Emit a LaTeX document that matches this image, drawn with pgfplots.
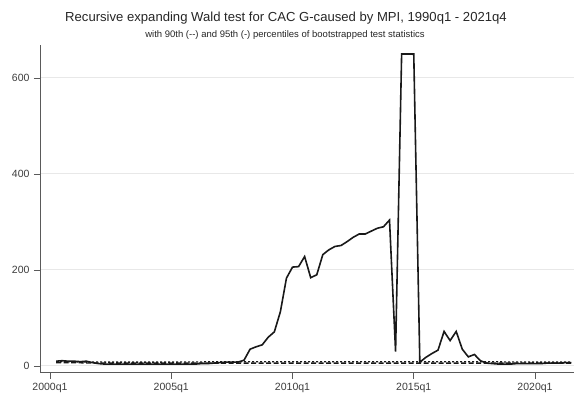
\documentclass[border=0pt]{standalone}
\usepackage{pgfplots}
\pgfplotsset{compat=1.18}
\usepackage{fontspec}
\setmainfont{Liberation Sans}

\definecolor{gridgray}{RGB}{232,232,232}
\definecolor{axisgray}{RGB}{90,90,90}
\definecolor{labelgray}{RGB}{60,60,60}
\definecolor{serieblack}{RGB}{25,25,25}

% quarter index: 0 = 2000q1, 4 = 2001q1, ...
\pgfplotstableread{
q   wald
1   10
2   11
3   10
4   10
5   9
6   10
7   7
8   5
9   4
10  4
11  4
12  4
13  4
14  4
15  4
16  4
17  4
18  4
19  4
20  4
21  4
22  4
23  4
24  4
25  5
26  5
27  6
28  7
29  8
30  8
31  8
32  12
33  35
34  40
35  44
36  60
37  71
38  113
39  183
40  206
41  207
42  228
43  184
44  190
45  232
46  242
47  249
48  251
49  259
50  268
51  275
52  275
53  281
54  287
55  290
56  304
57  30
58  650
59  650
60  650
61  8
62  18
63  26
64  33
65  72
66  53
67  72
68  35
69  19
70  24
71  11
72  6
73  5
74  4
75  4
76  4
77  5
78  5
79  5
80  5
81  5
82  6
83  6
84  6
85  7
86  7
}\waldtab

\pgfplotstableread{
q   p90  p95
1   7    9
10  6    8
20  6    8
30  6    9
40  6    9
50  6    9
60  6    9
70  6    9
80  6    8
86  6    8
}\boottab

\begin{document}
\begin{tikzpicture}
\useasboundingbox (0,0) rectangle (574pt,404pt);

\node[anchor=base, font=\fontsize{13.1}{15}\selectfont, text=black!85] at (286pt,382pt)
  {Recursive expanding Wald test for CAC G-caused by MPI, 1990q1 - 2021q4};
\node[anchor=base, font=\fontsize{9.5}{11}\selectfont, text=black!85] at (285pt,366pt)
  {with 90th (-{}-) and 95th (-) percentiles of bootstrapped test statistics};

\begin{axis}[
  at={(40pt,31pt)}, anchor=south west,
  width=534pt, height=328pt, scale only axis,
  xmin=-1.65, xmax=86.43,
  ymin=-14.6, ymax=668.7,
  axis x line*=bottom, axis y line*=left,
  axis line style={-, draw=axisgray, line width=1pt},
  xtick={0,20,40,60,80},
  xticklabels={2000q1,2005q1,2010q1,2015q1,2020q1},
  ytick={0,200,400,600},
  tick align=outside,
  major tick length=6pt,
  tick style={draw=axisgray, line width=0.9pt},
  ymajorgrids,
  grid style={draw=gridgray, line width=1pt},
  ticklabel style={font=\fontsize{10.5}{12}\selectfont, text=labelgray},
  /pgf/number format/assume math mode=true,
  yticklabel style={xshift=-1pt},
  xticklabel style={yshift=-1pt},
  clip=false,
]
\addplot[serieblack, line width=1.3pt, dash pattern=on 5pt off 2.5pt] table[x=q, y=p90] {\boottab};
\addplot[serieblack, line width=1.3pt, dash pattern=on 2pt off 2pt] table[x=q, y=p95] {\boottab};
\addplot[serieblack, line width=1.6pt, line join=miter, miter limit=4] table[x=q, y=wald] {\waldtab};
\end{axis}
\end{tikzpicture}
\end{document}
